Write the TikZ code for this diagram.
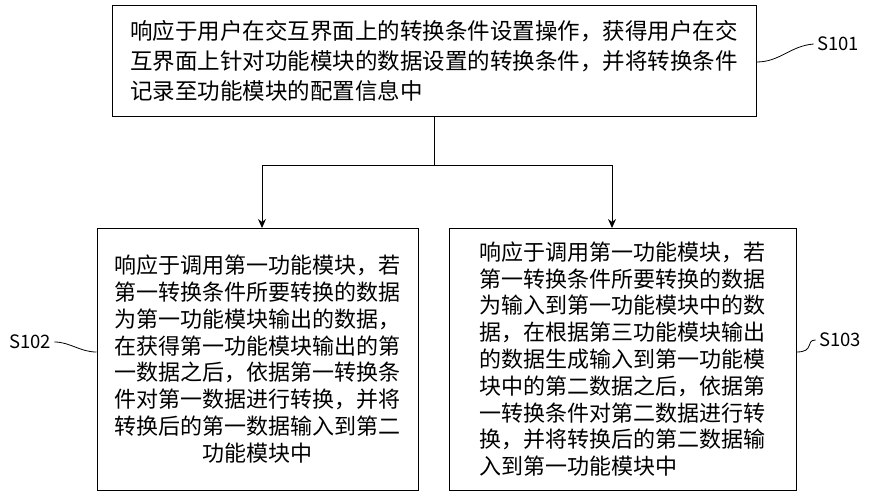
\documentclass[tikz,border=0pt]{standalone}
\usepackage{fontspec}
\setmainfont{Noto Sans CJK SC}
\usetikzlibrary{arrows.meta}
\begin{document}
\begin{tikzpicture}[x=1pt,y=-1pt,
  box/.style={draw,line width=1pt,inner sep=0pt},
  conn/.style={line width=1pt,-{Stealth[length=9pt,width=8pt]}},
  lead/.style={line width=0.8pt},
  lab/.style={font=\fontsize{18.5}{20}\selectfont}]
\useasboundingbox (0,0) rectangle (874,500);
\node[box,minimum width=644pt,minimum height=110pt] (top) at (434,61) {};
\node[align=left,font=\fontsize{22.5}{30}\selectfont] at (top.center) {响应于用户在交互界面上的转换条件设置操作，获得用户在交\\互界面上针对功能模块的数据设置的转换条件，并将转换条件\\记录至功能模块的配置信息中};
\node[box,minimum width=321pt,minimum height=262pt] (left) at (257.5,359) {};
\node[align=center,font=\fontsize{22}{26.8}\selectfont] at (left.center) {响应于调用第一功能模块，若\\第一转换条件所要转换的数据\\为第一功能模块输出的数据，\\在获得第一功能模块输出的第\\一数据之后，依据第一转换条\\件对第一数据进行转换，并将\\转换后的第一数据输入到第二\\功能模块中};
\node[box,minimum width=347pt,minimum height=262pt] (right) at (622.5,359) {};
\node[align=left,font=\fontsize{22}{26.8}\selectfont] at (right.center) {响应于调用第一功能模块，若\\第一转换条件所要转换的数据\\为输入到第一功能模块中的数\\据，在根据第三功能模块输出\\的数据生成输入到第一功能模\\块中的第二数据之后，依据第\\一转换条件对第二数据进行转\\换，并将转换后的第二数据输\\入到第一功能模块中};
\coordinate (j) at (434,165);
\draw[line width=1pt] (top.south) -- (j);
\draw[conn] (j) -| (262,228);
\draw[conn] (j) -| (612,228);
\node[lab] (s1) at (838,44) {S101};
\node[lab] (s2) at (30,342) {S102};
\node[lab] (s3) at (840,340) {S103};
\draw[lead] (top.east |- 0,62) .. controls (780,62) and (790,46) .. (s1.west);
\draw[lead] (s2.east) .. controls (70,342) and (80,352) .. (left.west |- 0,352);
\draw[lead] (right.east |- 0,352) .. controls (815,352) and (805,340) .. (s3.west);
\end{tikzpicture}
\end{document}
